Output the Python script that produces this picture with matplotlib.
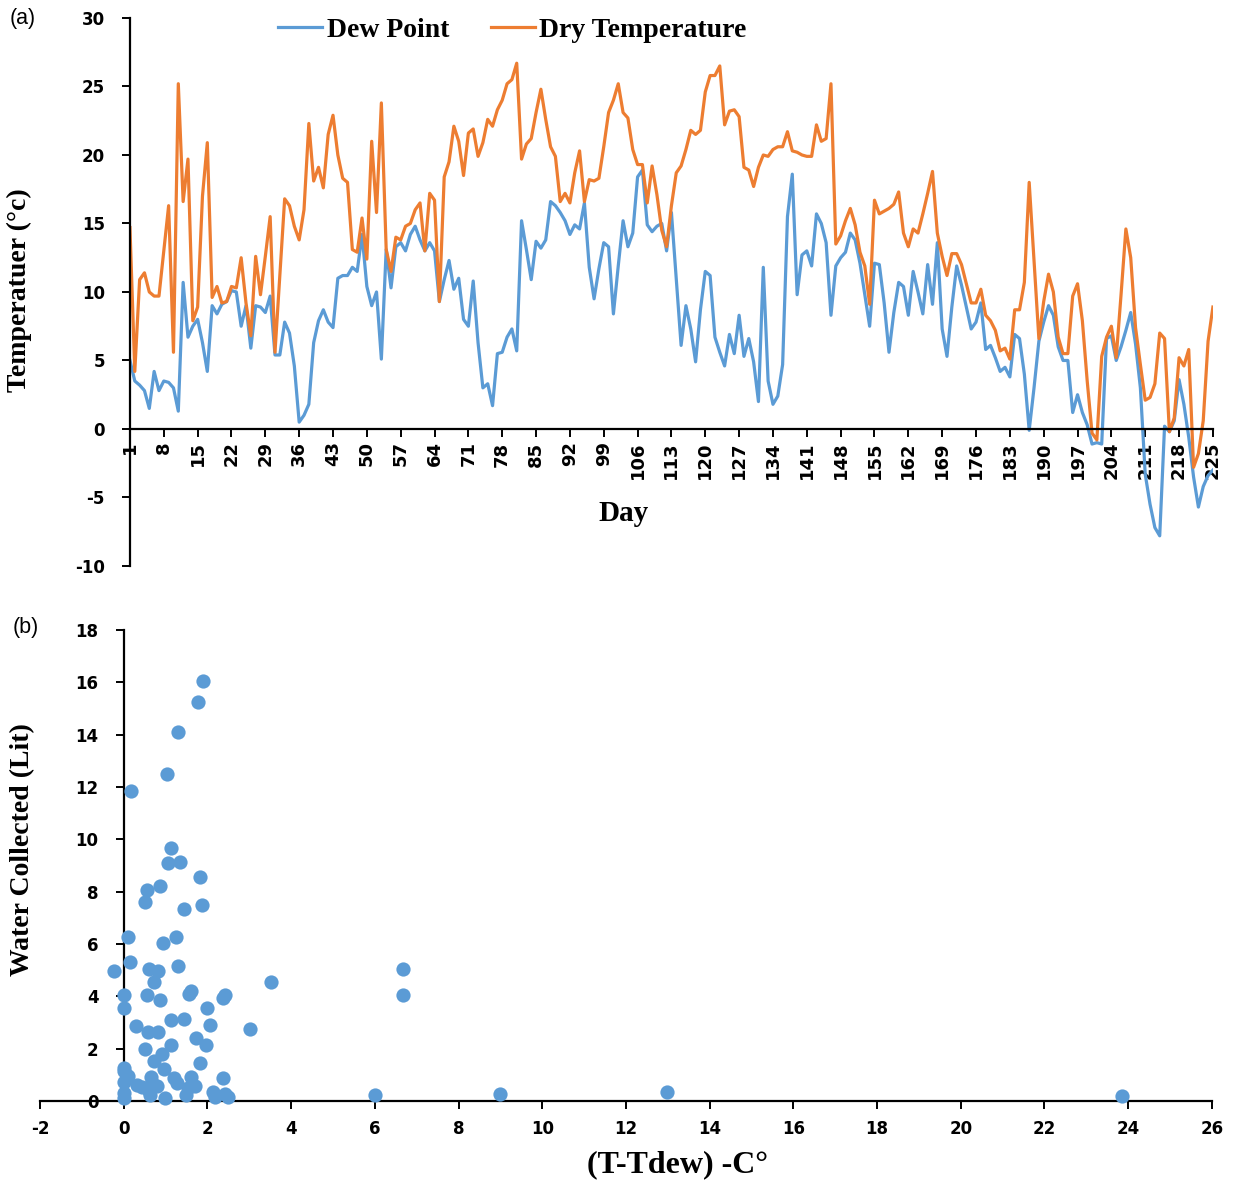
import matplotlib
matplotlib.use("Agg")
import matplotlib.pyplot as plt
import numpy as np

plt.rcParams["axes.unicode_minus"] = False

# ---- data -------------------------------------------------------------
days = list(range(1, 226))

dew_point = [
    5.0, 3.5, 3.2, 2.8, 1.5, 4.2, 2.8, 3.5, 3.4, 3.0,
    1.3, 10.7, 6.7, 7.5, 8.0, 6.3, 4.2, 9.0, 8.4, 9.1,
    9.3, 10.1, 10.0, 7.5, 9.0, 5.9, 9.0, 8.9, 8.5, 9.7,
    5.4, 5.4, 7.8, 7.0, 4.6, 0.5, 1.0, 1.8, 6.3, 7.9,
    8.7, 7.8, 7.4, 11.0, 11.2, 11.2, 11.8, 11.5, 14.2, 10.4,
    9.0, 10.0, 5.1, 13.1, 10.3, 13.3, 13.6, 13.0, 14.2, 14.8,
    13.8, 13.0, 13.6, 13.0, 9.3, 10.9, 12.3, 10.2, 11.0, 8.0,
    7.5, 10.8, 6.3, 3.0, 3.3, 1.7, 5.5, 5.6, 6.7, 7.3,
    5.7, 15.2, 13.1, 10.9, 13.7, 13.2, 13.8, 16.6, 16.3, 15.8,
    15.2, 14.2, 14.9, 14.6, 16.5, 11.8, 9.5, 11.7, 13.6, 13.3,
    8.4, 11.9, 15.2, 13.3, 14.3, 18.4, 18.9, 14.9, 14.4, 14.8,
    15.0, 13.0, 15.8, 11.0, 6.1, 9.0, 7.3, 4.9, 8.7, 11.5,
    11.2, 6.7, 5.6, 4.6, 6.9, 5.5, 8.3, 5.3, 6.6, 4.9,
    2.0, 11.8, 3.5, 1.8, 2.4, 4.7, 15.5, 18.6, 9.8, 12.7,
    13.0, 11.9, 15.7, 15.0, 13.6, 8.3, 11.9, 12.5, 12.9, 14.3,
    13.8, 12.1, 9.8, 7.5, 12.1, 12.0, 9.2, 5.6, 8.5, 10.7,
    10.4, 8.3, 11.5, 10.0, 8.4, 12.0, 9.1, 13.6, 7.3, 5.3,
    8.9, 11.9, 10.5, 8.9, 7.3, 7.8, 9.2, 5.8, 6.1, 5.2,
    4.2, 4.5, 3.8, 6.9, 6.6, 4.0, -0.1, 3.0, 6.4, 7.8,
    9.0, 8.3, 6.0, 5.0, 5.0, 1.2, 2.5, 1.2, 0.3, -1.1,
    -1.0, -1.1, 6.6, 6.8, 5.0, 6.0, 7.2, 8.5, 6.2, 3.0,
    -3.3, -5.5, -7.2, -7.8, 0.2, -0.2, 0.6, 3.6, 1.8, -0.6,
    -3.5, -5.7, -4.2, -3.4, -3.0,
]

dry_temp = [
    14.7, 4.2, 10.9, 11.4, 10.0, 9.7, 9.7, 13.0, 16.3, 5.6,
    25.2, 16.6, 19.7, 7.9, 8.9, 17.0, 20.9, 9.6, 10.4, 9.2,
    9.3, 10.4, 10.3, 12.5, 9.2, 6.8, 12.6, 9.8, 12.6, 15.5,
    5.6, 11.2, 16.8, 16.3, 14.8, 13.8, 16.0, 22.3, 18.1, 19.1,
    17.6, 21.5, 22.9, 20.0, 18.3, 18.0, 13.1, 12.9, 15.4, 12.4,
    21.0, 15.8, 23.8, 13.1, 11.5, 14.0, 13.8, 14.8, 15.0, 16.0,
    16.5, 13.0, 17.2, 16.7, 9.3, 18.4, 19.5, 22.1, 21.0, 18.5,
    21.6, 21.9, 19.9, 20.9, 22.6, 22.1, 23.3, 24.0, 25.2, 25.5,
    26.7, 19.7, 20.8, 21.2, 23.1, 24.8, 22.6, 20.6, 19.9, 16.6,
    17.2, 16.5, 18.7, 20.3, 16.6, 18.2, 18.1, 18.3, 20.6, 23.1,
    24.0, 25.2, 23.1, 22.7, 20.4, 19.3, 19.3, 16.5, 19.2, 17.1,
    14.5, 13.3, 16.3, 18.7, 19.2, 20.4, 21.8, 21.5, 21.8, 24.6,
    25.8, 25.8, 26.5, 22.2, 23.2, 23.3, 22.8, 19.1, 18.9, 17.7,
    19.1, 20.0, 19.9, 20.4, 20.6, 20.6, 21.7, 20.3, 20.2, 20.0,
    19.9, 19.9, 22.2, 21.0, 21.2, 25.2, 13.5, 14.1, 15.2, 16.1,
    14.9, 12.9, 11.9, 9.1, 16.7, 15.7, 15.9, 16.1, 16.4, 17.3,
    14.3, 13.3, 14.6, 14.3, 15.7, 17.2, 18.8, 14.3, 12.6, 11.2,
    12.8, 12.8, 12.0, 10.6, 9.2, 9.2, 10.2, 8.3, 7.9, 7.2,
    5.7, 5.9, 5.1, 8.7, 8.7, 10.7, 18.0, 12.3, 6.6, 9.3,
    11.3, 10.0, 6.7, 5.5, 5.5, 9.7, 10.6, 7.9, 3.5, -0.3,
    -0.8, 5.3, 6.7, 7.5, 5.2, 9.8, 14.6, 12.5, 7.4, 4.7,
    2.1, 2.3, 3.3, 7.0, 6.6, -0.2, 0.8, 5.2, 4.6, 5.8,
    -2.8, -1.8, 0.6, 6.4, 8.9,
]

# scatter: temperature - dew point difference vs water collected
t_diff = [
    1.90, 1.78, 1.29, 1.03, 0.18, 1.13, 1.05, 1.35, 1.82, 0.56,
    0.87, 0.52, 1.86, 1.43, 0.10, 1.25, 0.95, 0.15, -0.22, 0.61,
    0.83, 1.31, 0.73, 0.00, 0.55, 1.60, 1.57, 0.87, 2.42, 2.38,
    3.53, 0.00, 2.00, 0.29, 0.59, 0.83, 1.13, 1.43, 2.07, 3.03,
    0.51, 1.13, 1.72, 1.97, 0.73, 0.92, 0.96, 1.82, 0.00, 0.02,
    0.11, 0.31, 0.00, 0.45, 0.65, 0.67, 0.79, 1.21, 1.27, 1.61,
    1.70, 1.54, 0.60, 0.00, 0.00, 0.98, 1.50, 2.13, 2.18, 2.37,
    2.42, 2.50, 0.63, 6.00, 6.67, 6.67, 9.00, 12.97, 23.85,
]
water = [
    16.05, 15.25, 14.10, 12.50, 11.85, 9.65, 9.10, 9.15, 8.55, 8.05,
    8.20, 7.60, 7.50, 7.35, 6.25, 6.25, 6.05, 5.30, 4.95, 5.05,
    4.95, 5.15, 4.55, 4.05, 4.05, 4.20, 4.10, 3.85, 4.05, 3.95,
    4.55, 3.55, 3.55, 2.85, 2.62, 2.62, 3.08, 3.13, 2.90, 2.74,
    1.98, 2.15, 2.42, 2.14, 1.53, 1.78, 1.22, 1.44, 1.28, 1.14,
    0.95, 0.62, 0.74, 0.52, 0.93, 0.68, 0.58, 0.88, 0.68, 0.93,
    0.57, 0.48, 0.40, 0.30, 0.13, 0.10, 0.23, 0.36, 0.15, 0.88,
    0.27, 0.17, 0.23, 0.23, 5.05, 4.05, 0.28, 0.33, 0.20,
]

day_ticks = list(range(1, 226, 7))

BLUE = "#5B9BD5"
ORANGE = "#ED7D31"
SERIF = "Liberation Serif"
TICKFONT = "DejaVu Sans"


def style_ticklabels(labels, size):
    for lab in labels:
        lab.set_fontfamily(TICKFONT)
        lab.set_fontweight("bold")
        lab.set_fontsize(size)


fig = plt.figure(figsize=(12.33, 11.84), dpi=100)

# ---- (a) line chart ---------------------------------------------------
ax1 = fig.add_axes([0.1054, 0.5220, 0.8783, 0.4628])
ax1.plot(days, dew_point, color=BLUE, lw=2.3, label="Dew Point")
ax1.plot(days, dry_temp, color=ORANGE, lw=2.3, label="Dry Temperature")
ax1.set_xlim(1, 225)
ax1.set_ylim(-10, 30)
ax1.set_yticks(np.arange(-10, 31, 5))
ax1.set_xticks(day_ticks)
for s in ["top", "right"]:
    ax1.spines[s].set_visible(False)
ax1.spines["bottom"].set_position(("data", 0))
for s in ["left", "bottom"]:
    ax1.spines[s].set_linewidth(1.6)
ax1.tick_params(axis="both", direction="out", length=6, width=1.4)
ax1.tick_params(axis="x", pad=3, labelrotation=90)
ax1.tick_params(axis="y", pad=12)
style_ticklabels(ax1.get_xticklabels(), 13)
style_ticklabels(ax1.get_yticklabels(), 12)

ax1.set_ylabel("Temperatuer (°c)", fontfamily=SERIF, fontweight="bold", fontsize=20)
ax1.yaxis.set_label_coords(-0.09, 0.504)
ax1.text(0.456, 0.095, "Day", transform=ax1.transAxes, ha="center", va="center",
         fontfamily=SERIF, fontweight="bold", fontsize=21)
ax1.legend(loc="center", bbox_to_anchor=(0.353, 0.978), ncol=2, frameon=False,
           handlelength=1.6, handletextpad=0.15, columnspacing=1.5,
           prop={"family": SERIF, "weight": "bold", "size": 20})

# ---- (b) scatter ------------------------------------------------------
ax2 = fig.add_axes([0.0324, 0.0701, 0.9505, 0.3978])
ax2.scatter(t_diff, water, s=105, color=BLUE, zorder=3, clip_on=False, linewidths=0)
ax2.set_xlim(-2, 26)
ax2.set_ylim(0, 18)
ax2.set_xticks(np.arange(-2, 27, 2))
ax2.set_yticks(np.arange(0, 19, 2))
for s in ["top", "right"]:
    ax2.spines[s].set_visible(False)
ax2.spines["left"].set_position(("data", 0))
for s in ["left", "bottom"]:
    ax2.spines[s].set_linewidth(1.6)
ax2.tick_params(axis="both", direction="out", length=6, width=1.4)
ax2.tick_params(axis="x", pad=8)
ax2.tick_params(axis="y", pad=12)
style_ticklabels(ax2.get_xticklabels(), 12)
style_ticklabels(ax2.get_yticklabels(), 12)

ax2.set_ylabel("Water Collected (Lit)", fontfamily=SERIF, fontweight="bold", fontsize=20)
ax2.yaxis.set_label_coords(-0.004, 0.533)
ax2.set_xlabel("(T-Tdew) -C°", fontfamily=SERIF, fontweight="bold", fontsize=23)
ax2.xaxis.set_label_coords(0.544, -0.105)

fig.text(0.008, 0.984, "(a)", fontfamily="Liberation Sans", fontsize=15.5, va="center")
fig.text(0.010, 0.470, "(b)", fontfamily="Liberation Sans", fontsize=15.5, va="center")

fig.savefig("out.png", dpi=100)
